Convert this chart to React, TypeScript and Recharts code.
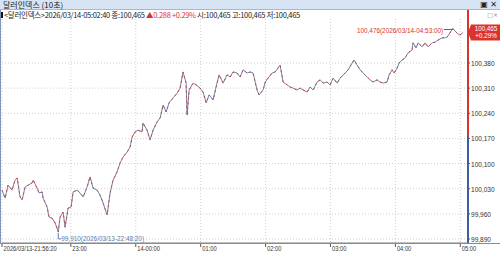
import { LineChart, Line, XAxis, YAxis, CartesianGrid, ReferenceLine, ReferenceDot } from 'recharts';

// minutes after 2026/03/13 21:56:20, price
const minutes = [
  0, 2.9, 5.6, 9.3, 12.1, 14.0, 16.7, 18.6, 21.4, 24.1, 27.8, 28.8, 32.4, 34.3, 37.1, 38.0, 41.7, 43.5, 46.3, 49.1,
  52.0, 53.7, 56.5, 58.3, 61.1, 63.9, 65.7, 69.4, 72.2, 75.0, 78.7, 81.4, 84.2, 87.9, 90.7, 93.5, 97.2, 99.9, 102.7, 106.4,
  109.2, 111.9, 115.7, 118.4, 120.3, 123.0, 125.8, 129.5, 130.4, 134.1, 136.9, 139.7, 143.4, 146.2, 148.9, 151.7, 154.5, 158.2, 161.9, 164.6,
  167.4, 170.2, 171.1, 173.0, 176.7, 179.4, 182.2, 185.9, 188.7, 191.5, 195.2, 197.9, 200.7, 204.4, 208.1, 210.9, 213.6, 217.3, 220.1, 222.9,
  226.6, 229.4, 232.1, 235.8, 237.7, 241.4, 243.4, 246.0, 249.7, 252.5, 255.2, 257.1, 259.9, 263.6, 266.3, 269.1, 272.8, 275.6, 278.4, 282.1,
  284.8, 287.6, 291.3, 294.1, 296.8, 300.5, 303.3, 306.1, 309.8, 312.6, 317.2, 320.0, 323.7, 325.5, 328.3, 331.1, 333.8, 337.5, 340.3, 343.1,
  346.8, 349.5, 352.3, 356.0, 357.9, 360.6, 362.5, 365.3, 367.1, 369.9, 372.6, 375.4, 379.1, 380.0, 382.8, 384.7, 388.4, 391.1, 393.9, 397.6,
  400.4, 403.2, 406.9, 409.6, 411.5, 416.7, 419.8, 421.6, 423.5, 426.3,
];
const prices = [
  100.026, 100.004, 100.040, 100.026, 100.054, 100.060, 100.007, 99.999, 100.035, 100.040, 100.046, 100.054, 100.032, 100.018, 100.021, 100.004, 99.979, 99.951, 99.948, 99.935,
  99.910, 99.951, 99.965, 99.923, 99.976, 99.979, 100.021, 100.026, 100.018, 100.007, 100.035, 100.063, 100.032, 100.026, 100.012, 99.990, 99.957, 100.018, 100.054, 100.077,
  100.102, 100.118, 100.132, 100.146, 100.174, 100.188, 100.193, 100.188, 100.213, 100.193, 100.166, 100.193, 100.216, 100.227, 100.263, 100.244, 100.269, 100.283, 100.296, 100.310,
  100.355, 100.324, 100.235, 100.305, 100.324, 100.319, 100.313, 100.299, 100.269, 100.291, 100.277, 100.313, 100.347, 100.324, 100.347, 100.341, 100.355, 100.352, 100.341, 100.361,
  100.352, 100.355, 100.352, 100.305, 100.291, 100.305, 100.327, 100.338, 100.352, 100.355, 100.366, 100.374, 100.327, 100.319, 100.313, 100.310, 100.305, 100.310, 100.305, 100.299,
  100.313, 100.305, 100.327, 100.333, 100.324, 100.327, 100.319, 100.338, 100.324, 100.338, 100.352, 100.361, 100.380, 100.388, 100.374, 100.361, 100.352, 100.341, 100.333, 100.327,
  100.333, 100.327, 100.324, 100.327, 100.347, 100.361, 100.352, 100.366, 100.380, 100.388, 100.394, 100.408, 100.416, 100.436, 100.422, 100.436, 100.425, 100.436, 100.425, 100.436,
  100.438, 100.444, 100.450, 100.450, 100.452, 100.476, 100.466, 100.461, 100.458, 100.465,
];

const xTickMinutes = [0, 63.67, 123.67, 183.67, 243.67, 303.67, 363.67, 423.67];
const xTickLabels = ['2026/03/13-21:56:20', '23:00', '14-00:00', '01:00', '02:00', '03:00', '04:00', '05:00'];
const yTicks = [99.89, 99.96, 100.03, 100.1, 100.17, 100.24, 100.31, 100.38];

const lastPrice = 100.465;
const prevClose = 100.177;
const highPoint = { m: 416.7, v: 100.476, label: '100,476(2026/03/14-04:53:00)' };
const lowPoint = { m: 52.0, v: 99.91, label: '99,910(2026/03/13-22:48:20)' };

const data = minutes.map((m, i) => ({ m, v: prices[i] }));

const X_MAX = 430.8;
const Y_MIN = 99.8789;
const Y_MAX = 100.5275;

const FONT = "'Liberation Sans', Arial, sans-serif";
const RED = '#d9342b';
const BLUE = '#3f5f9a';

const fmt = (v: number) => v.toFixed(3).replace('.', ',');

// narrow text: squeeze horizontally like the terminal's bitmap font
const Narrow = ({ x, y, fill, size = 8, sx = 0.78, anchor = 'start', children }: any) => (
  <text
    transform={`translate(${x},${y}) scale(${sx},1)`}
    fontSize={size}
    fontFamily={FONT}
    fill={fill}
    textAnchor={anchor}
  >
    {children}
  </text>
);

const XTick = (props: any) => {
  const { x, y, index } = props;
  return <Narrow x={x + 1.5} y={y + 2} fill="#333" sx={0.72}>{xTickLabels[index]}</Narrow>;
};

const YTick = (props: any) => {
  const { x, y, payload } = props;
  return <Narrow x={x} y={y + 3} fill="#333" sx={0.82}>{fmt(payload.value)}</Narrow>;
};

const PriceBox = (props: any) => {
  const { cx, cy } = props;
  return (
    <g>
      <polygon points={`${cx},${cy} ${cx + 3},${cy - 8} ${cx + 32},${cy - 8} ${cx + 32},${cy + 8} ${cx + 3},${cy + 8}`} fill={RED} />
      <Narrow x={cx + 18} y={cy - 1.5} fill="#fff" anchor="middle" size={7} sx={0.9}>{fmt(lastPrice)}</Narrow>
      <Narrow x={cx + 18} y={cy + 6} fill="#fff" anchor="middle" size={7} sx={0.9}>+0.29%</Narrow>
    </g>
  );
};

const HighMark = (props: any) => {
  const { cx, cy } = props;
  return (
    <g>
      <line x1={cx - 9} y1={cy + 1} x2={cx} y2={cy + 1} stroke={RED} strokeWidth={1} />
      <Narrow x={cx - 9.5} y={cy + 4} fill={RED} anchor="end" sx={0.8}>{highPoint.label}</Narrow>
    </g>
  );
};

const LowMark = (props: any) => {
  const { cx, cy } = props;
  return (
    <g>
      <polyline points={`${cx},${cy + 1} ${cx},${cy + 7} ${cx + 3},${cy + 7}`} fill="none" stroke="#5b7db0" strokeWidth={1} />
      <Narrow x={cx + 3} y={cy + 9} fill="#5b7db0" sx={0.8}>{lowPoint.label}</Narrow>
    </g>
  );
};

export default function App() {
  return (
    <div style={{ position: 'absolute', left: 0, top: 0, width: 500, height: 254, background: '#fff', overflow: 'hidden', fontFamily: FONT }}>
      <LineChart width={500} height={254} data={data} margin={{ top: 10, right: 0, bottom: 0, left: 2 }}>
        <CartesianGrid stroke="#cfcfcf" strokeDasharray="1 2" />
        <XAxis
          type="number"
          dataKey="m"
          domain={[0, X_MAX]}
          ticks={xTickMinutes}
          height={11}
          axisLine={{ stroke: '#8a8a8a' }}
          tickLine={{ stroke: '#555' }}
          tickSize={4}
          tick={<XTick />}
          interval={0}
        />
        <YAxis
          orientation="right"
          type="number"
          domain={[Y_MIN, Y_MAX]}
          ticks={yTicks}
          width={32}
          axisLine={false}
          tickLine={{ stroke: '#555' }}
          tickSize={2}
          tickMargin={1}
          tick={<YTick />}
          interval={0}
        />
        <ReferenceLine segment={[{ x: X_MAX, y: Y_MIN }, { x: X_MAX, y: prevClose }]} stroke={BLUE} strokeWidth={2} ifOverflow="visible" />
        <ReferenceLine segment={[{ x: X_MAX, y: prevClose }, { x: X_MAX, y: Y_MAX }]} stroke={RED} strokeWidth={2} ifOverflow="visible" />
        <Line dataKey="v" type="linear" stroke="#7587ad" strokeWidth={1} dot={false} isAnimationActive={false} />
        <Line dataKey="v" type="linear" stroke="#c8463f" strokeWidth={1} strokeDasharray="2 3" dot={false} isAnimationActive={false} />
        <ReferenceDot x={X_MAX} y={lastPrice} r={0} shape={PriceBox} ifOverflow="visible" />
        <ReferenceDot x={highPoint.m} y={highPoint.v} r={0} shape={HighMark} ifOverflow="visible" />
        <ReferenceDot x={lowPoint.m} y={lowPoint.v} r={0} shape={LowMark} ifOverflow="visible" />
      </LineChart>

      {/* window title bar */}
      <div style={{ position: 'absolute', left: 0, top: 0, width: 500, height: 9, background: '#d6e4f4', borderBottom: '1px solid #a9b9cc', fontSize: 8, lineHeight: '9px', color: '#222', fontFamily: "'Noto Sans CJK KR', sans-serif" }}>
        <span style={{ marginLeft: 3 }}>달러인덱스 (10초)</span>
        <span style={{ position: 'absolute', right: 3, top: 0, fontSize: 8, fontFamily: 'DejaVu Sans' }}>▣ ✕</span>
      </div>

      {/* info line */}
      <div style={{ position: 'absolute', left: 0, top: 10, width: 466, height: 9, background: '#fff', fontSize: 7.5, lineHeight: '9px', color: '#222', whiteSpace: 'nowrap', fontFamily: "'Noto Sans CJK KR', sans-serif", letterSpacing: -0.3 }}>
        <span style={{ display: 'inline-block', width: 2, height: 6, background: '#111', marginLeft: 1, marginRight: 1 }} />
        {'<달러인덱스>2026/03/14-05:02:40 종:100,465 '}
        <span style={{ color: RED }}>▲0.288 +0.29%</span>
        {' 시:100,465 고:100,465 저:100,465'}
      </div>

      <div style={{ position: 'absolute', right: 2, top: 11, fontSize: 6, lineHeight: '7px', color: '#888', fontFamily: 'DejaVu Sans' }}>□×</div>

      {/* left window border */}
      <div style={{ position: 'absolute', left: 0, top: 10, width: 1, height: 233, background: '#7f96b8' }} />
      {/* bottom rule spans full width */}
      <div style={{ position: 'absolute', left: 0, top: 243, width: 500, height: 1, background: '#8a8a8a' }} />
    </div>
  );
}
